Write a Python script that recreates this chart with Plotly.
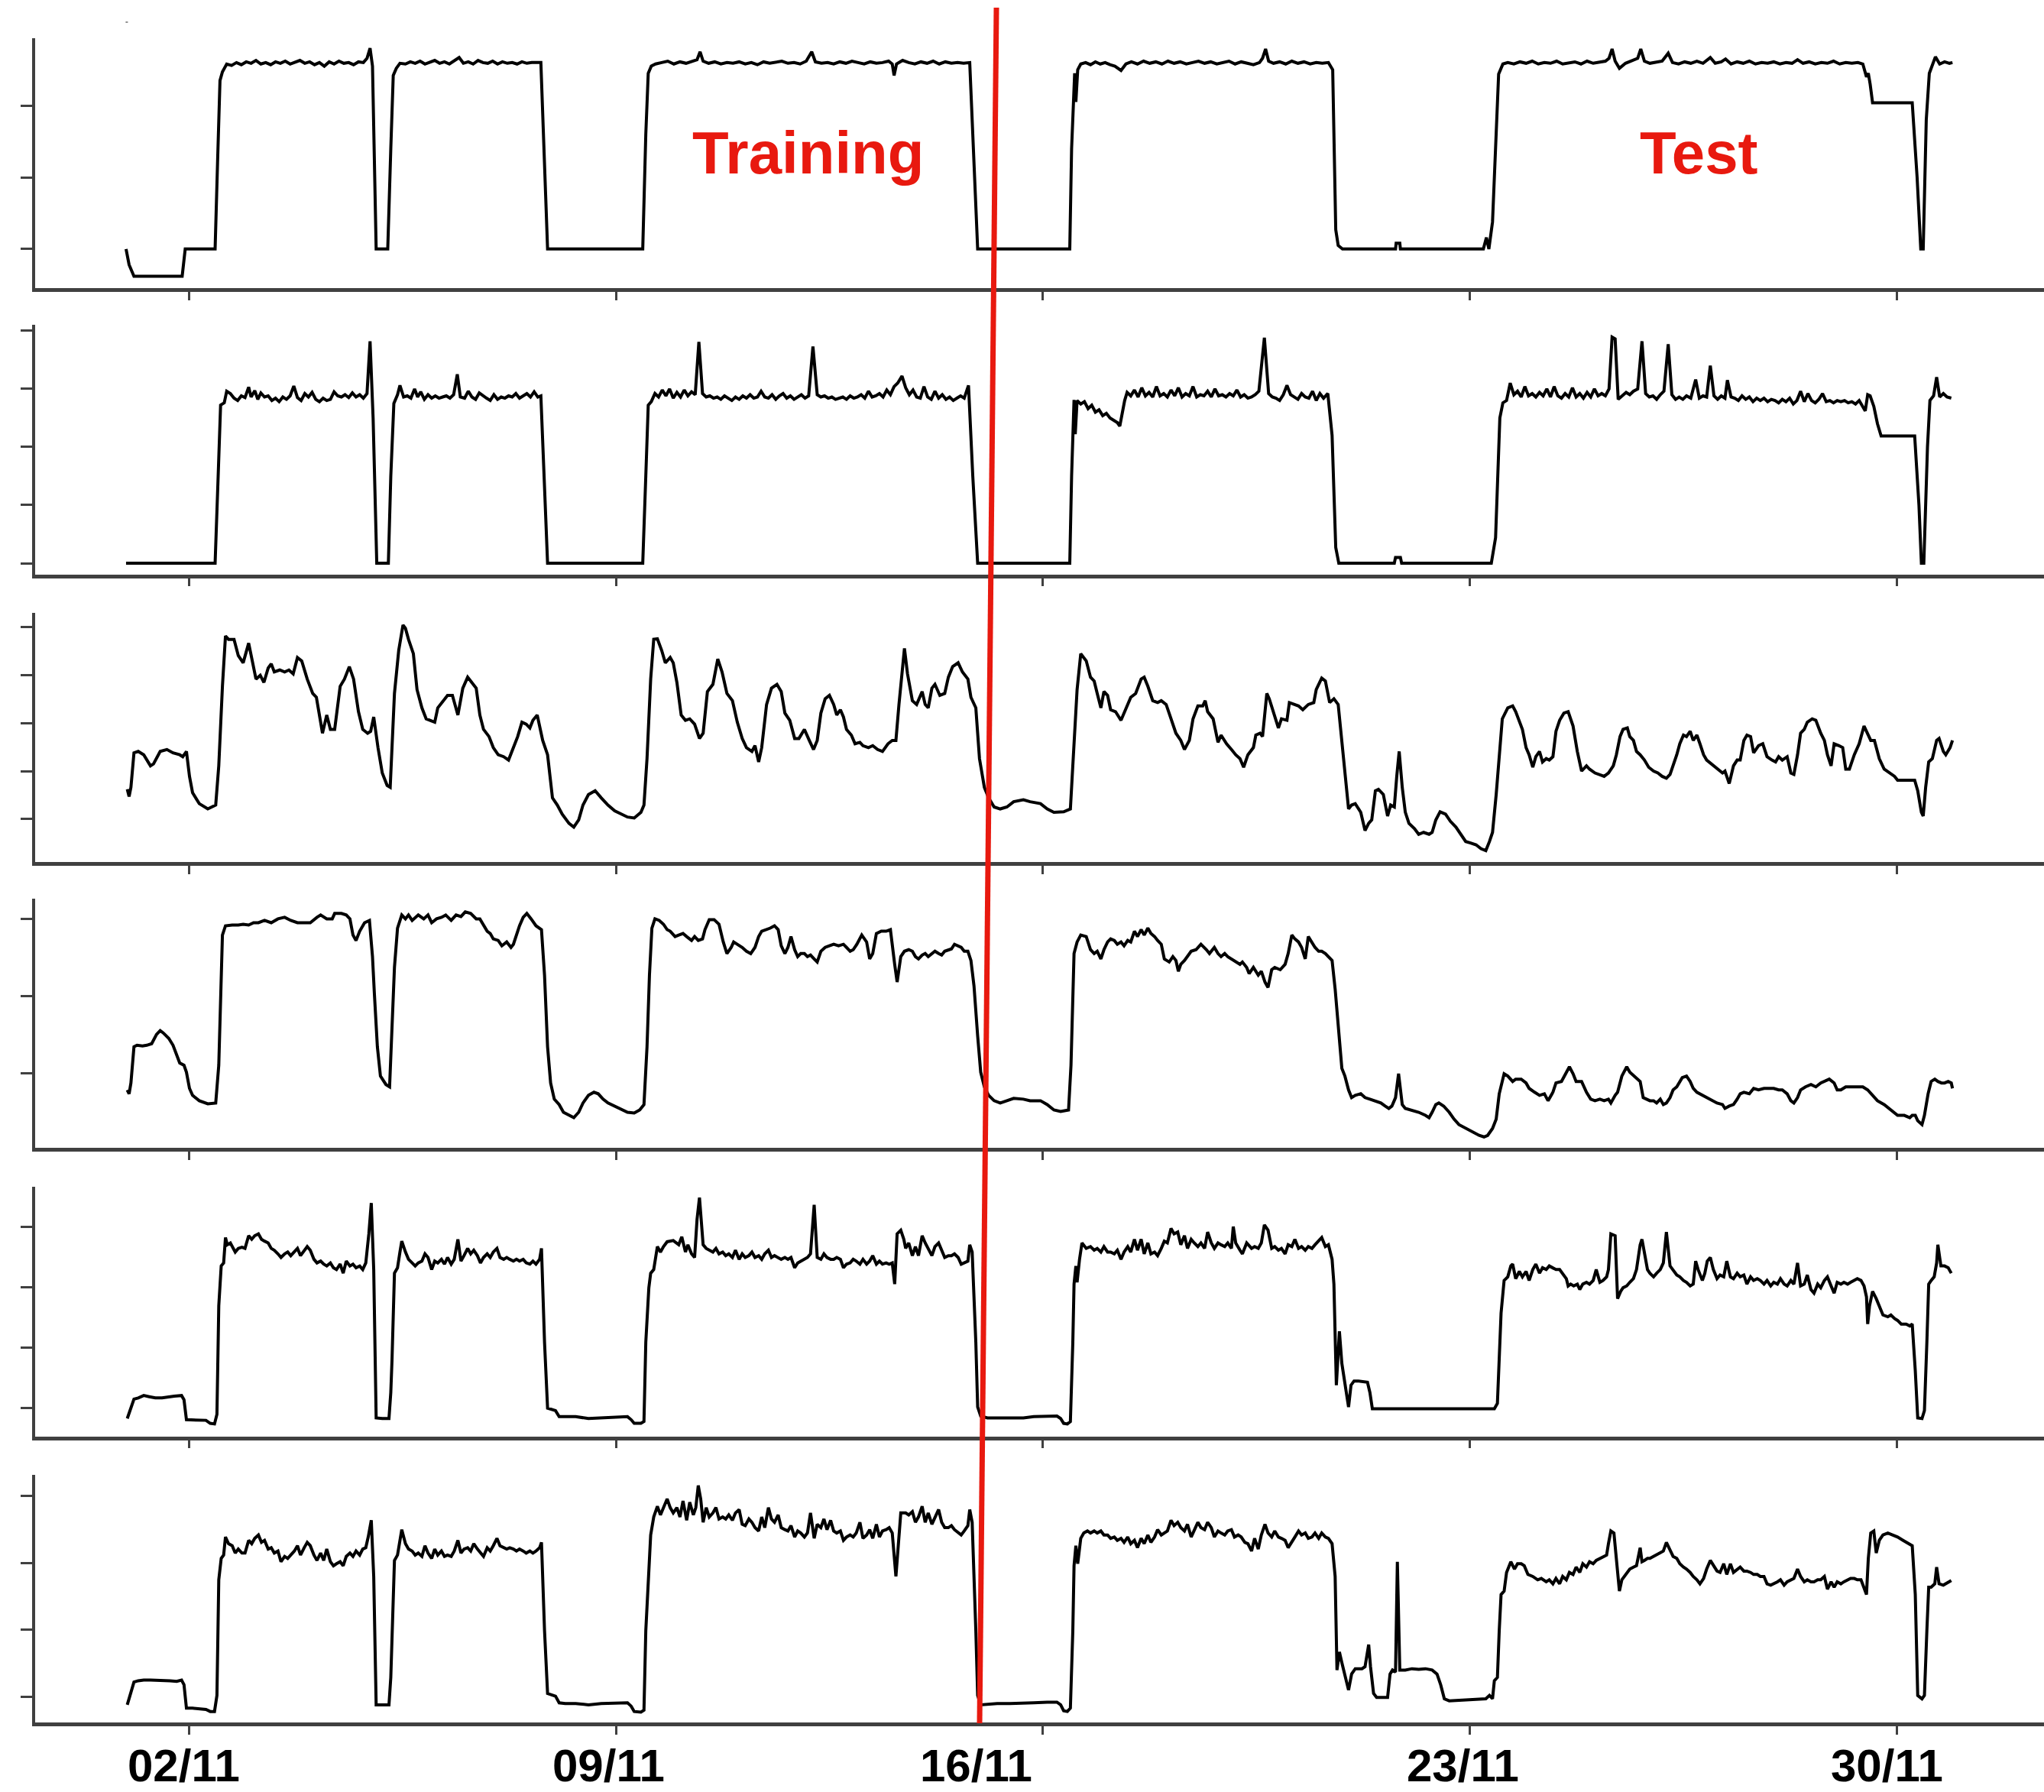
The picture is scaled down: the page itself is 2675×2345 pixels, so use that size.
import plotly.graph_objects as go

# ---------------- data (x = day of November, y = panel value) ----------------
TICK_DAYS = [2, 9, 16, 23, 30]
TICK_LABELS = ["02/11", "09/11", "16/11", "23/11", "30/11"]
LABEL_DAYS = [1.91, 8.88, 14.90, 22.88, 29.83]
PHASE_LABELS = ["Training", "Test"]
X_RANGE = [-0.52, 32.41]

panel1 = [(0.97,0.00),(1.02,-0.22),(1.10,-0.38),(1.50,-0.38),(1.89,-0.38),(1.94,0.00),(2.20,0.00),(2.43,0.00),
(2.47,1.20),(2.51,2.35),(2.55,2.47),(2.62,2.58),(2.70,2.56),(2.78,2.60),(2.86,2.57),(2.94,2.61),(3.02,2.59),(3.10,2.63),
(3.18,2.58),(3.26,2.60),(3.34,2.57),(3.42,2.61),(3.50,2.59),(3.58,2.62),(3.66,2.58),(3.74,2.60),(3.82,2.63),(3.90,2.59),
(3.98,2.61),(4.06,2.57),(4.14,2.60),(4.22,2.55),(4.30,2.61),(4.38,2.58),(4.46,2.62),(4.54,2.59),(4.62,2.60),(4.70,2.57),
(4.78,2.61),(4.86,2.60),(4.92,2.66),(4.97,2.80),(5.01,2.55),(5.07,0.00),(5.26,0.00),(5.31,1.40),(5.35,2.42),(5.40,2.52),
(5.46,2.59),(5.55,2.58),(5.63,2.61),(5.71,2.59),(5.79,2.62),(5.87,2.58),(5.95,2.60),(6.03,2.63),(6.11,2.59),(6.19,2.61),
(6.27,2.58),(6.35,2.62),(6.43,2.67),(6.50,2.59),(6.58,2.61),(6.66,2.58),(6.74,2.63),(6.82,2.60),(6.90,2.59),(6.98,2.62),
(7.06,2.58),(7.14,2.61),(7.22,2.59),(7.30,2.60),(7.38,2.58),(7.46,2.61),(7.54,2.59),(7.62,2.60),(7.70,2.60),(7.77,2.60),
(7.88,0.00),(8.60,0.00),(9.44,0.00),(9.49,1.60),(9.53,2.45),(9.58,2.55),(9.65,2.58),(9.75,2.60),(9.85,2.62),(9.95,2.58),
(10.05,2.61),(10.15,2.59),(10.25,2.62),(10.33,2.64),(10.38,2.75),(10.43,2.62),(10.52,2.59),(10.62,2.61),(10.72,2.58),
(10.82,2.60),(10.92,2.59),(11.02,2.61),(11.12,2.58),(11.22,2.60),(11.32,2.57),(11.42,2.61),(11.52,2.59),(11.62,2.60),
(11.72,2.62),(11.82,2.59),(11.92,2.60),(12.02,2.58),(12.12,2.62),(12.21,2.75),(12.27,2.61),(12.37,2.59),(12.47,2.60),
(12.57,2.58),(12.67,2.61),(12.77,2.59),(12.87,2.62),(12.97,2.60),(13.07,2.58),(13.17,2.61),(13.27,2.59),(13.37,2.60),
(13.47,2.62),(13.53,2.58),(13.56,2.42),(13.60,2.58),(13.70,2.63),(13.80,2.60),(13.90,2.58),(14.00,2.61),(14.10,2.59),
(14.20,2.62),(14.30,2.58),(14.40,2.61),(14.50,2.59),(14.60,2.60),(14.70,2.59),(14.80,2.60),(14.93,0.00),(15.50,0.00),
(16.44,0.00),(16.47,1.40),(16.50,2.05),(16.52,2.45),(16.54,2.05),(16.57,2.50),(16.62,2.58),(16.70,2.60),(16.78,2.57),
(16.86,2.61),(16.94,2.58),(17.02,2.60),(17.10,2.57),(17.18,2.55),(17.28,2.49),(17.36,2.58),(17.45,2.61),(17.55,2.58),
(17.65,2.62),(17.75,2.59),(17.85,2.61),(17.95,2.58),(18.05,2.62),(18.15,2.59),(18.25,2.61),(18.35,2.58),(18.45,2.60),
(18.55,2.62),(18.65,2.59),(18.75,2.61),(18.85,2.58),(18.95,2.60),(19.05,2.62),(19.15,2.58),(19.25,2.61),(19.35,2.59),
(19.45,2.57),(19.55,2.60),(19.60,2.66),(19.65,2.79),(19.70,2.62),(19.78,2.59),(19.88,2.61),(19.98,2.58),(20.08,2.62),
(20.18,2.59),(20.28,2.61),(20.38,2.58),(20.48,2.60),(20.58,2.59),(20.68,2.60),(20.75,2.50),(20.80,0.27),(20.84,0.05),
(20.91,0.00),(21.50,0.00),(21.78,0.00),(21.79,0.08),(21.85,0.08),(21.86,0.00),(22.50,0.00),(23.22,0.00),(23.27,0.16),
(23.31,0.00),(23.37,0.38),(23.47,2.44),(23.54,2.58),(23.62,2.60),(23.72,2.58),(23.82,2.61),(23.92,2.59),(24.02,2.62),
(24.12,2.58),(24.22,2.60),(24.32,2.59),(24.42,2.62),(24.52,2.58),(24.62,2.60),(24.72,2.61),(24.82,2.58),(24.92,2.62),
(25.02,2.59),(25.12,2.60),(25.22,2.62),(25.28,2.66),(25.33,2.79),(25.38,2.62),(25.45,2.52),(25.55,2.59),(25.65,2.62),
(25.75,2.66),(25.80,2.79),(25.86,2.62),(25.95,2.59),(26.05,2.61),(26.15,2.62),(26.25,2.73),(26.32,2.60),(26.42,2.58),
(26.52,2.61),(26.62,2.59),(26.72,2.62),(26.82,2.59),(26.94,2.67),(27.02,2.59),(27.12,2.61),(27.19,2.65),(27.28,2.58),
(27.38,2.61),(27.48,2.59),(27.58,2.62),(27.68,2.58),(27.78,2.60),(27.88,2.59),(27.98,2.61),(28.08,2.58),(28.18,2.60),
(28.28,2.59),(28.37,2.64),(28.46,2.59),(28.56,2.61),(28.66,2.58),(28.76,2.60),(28.86,2.59),(28.96,2.62),(29.06,2.58),
(29.16,2.60),(29.26,2.59),(29.36,2.60),(29.44,2.58),(29.50,2.40),(29.53,2.45),(29.56,2.30),(29.60,2.04),(29.90,2.04),
(30.25,2.04),(30.33,1.00),(30.39,0.00),(30.43,0.00),(30.48,1.80),(30.53,2.45),(30.57,2.55),(30.63,2.68),(30.70,2.58),
(30.78,2.61),(30.86,2.59),(30.91,2.60)]

panel2 = [(0.97,0.00),(1.70,0.00),(2.43,0.00),(2.48,1.50),(2.52,2.72),(2.58,2.76),(2.62,2.96),(2.68,2.92),(2.74,2.84),
(2.80,2.80),(2.86,2.88),(2.92,2.85),(2.98,3.03),(3.02,2.86),(3.08,2.97),(3.13,2.82),(3.18,2.93),(3.24,2.86),(3.30,2.88),
(3.36,2.80),(3.42,2.84),(3.48,2.78),(3.54,2.86),(3.60,2.82),(3.66,2.88),(3.72,3.05),(3.78,2.85),(3.84,2.80),(3.90,2.92),
(3.96,2.86),(4.02,2.94),(4.08,2.82),(4.14,2.78),(4.20,2.84),(4.26,2.80),(4.32,2.82),(4.38,2.95),(4.44,2.88),(4.50,2.86),
(4.56,2.90),(4.62,2.85),(4.68,2.93),(4.74,2.86),(4.80,2.90),(4.86,2.84),(4.92,2.92),(4.97,3.82),(5.02,2.50),(5.08,0.00),
(5.27,0.00),(5.31,1.50),(5.36,2.75),(5.42,2.90),(5.46,3.06),(5.52,2.86),(5.58,2.88),(5.64,2.84),(5.70,3.00),(5.75,2.86),
(5.80,2.95),(5.86,2.82),(5.92,2.90),(5.98,2.84),(6.04,2.88),(6.10,2.84),(6.16,2.86),(6.22,2.88),(6.28,2.84),(6.34,2.90),
(6.40,3.25),(6.45,2.86),(6.52,2.84),(6.58,2.96),(6.64,2.86),(6.70,2.82),(6.76,2.93),(6.82,2.88),(6.88,2.84),(6.94,2.80),
(7.00,2.90),(7.06,2.82),(7.12,2.86),(7.18,2.84),(7.24,2.88),(7.30,2.86),(7.36,2.92),(7.42,2.84),(7.48,2.88),(7.54,2.92),
(7.60,2.86),(7.66,2.95),(7.72,2.86),(7.77,2.88),(7.88,0.00),(8.60,0.00),(9.44,0.00),(9.49,1.50),(9.53,2.72),(9.58,2.78),
(9.64,2.92),(9.70,2.86),(9.76,2.98),(9.82,2.88),(9.88,3.00),(9.94,2.84),(10.00,2.94),(10.06,2.86),(10.12,2.98),(10.18,2.88),
(10.24,2.95),(10.30,2.90),(10.36,3.81),(10.42,2.92),(10.48,2.86),(10.54,2.88),(10.60,2.84),(10.66,2.86),(10.72,2.82),
(10.78,2.88),(10.84,2.84),(10.90,2.80),(10.96,2.86),(11.02,2.82),(11.08,2.88),(11.14,2.84),(11.20,2.90),(11.26,2.84),
(11.32,2.86),(11.38,2.96),(11.44,2.86),(11.50,2.84),(11.56,2.90),(11.62,2.82),(11.68,2.88),(11.74,2.92),(11.80,2.84),
(11.86,2.88),(11.92,2.82),(11.98,2.86),(12.04,2.90),(12.10,2.84),(12.16,2.88),(12.23,3.73),(12.30,2.90),(12.36,2.86),
(12.42,2.88),(12.48,2.84),(12.54,2.86),(12.60,2.82),(12.66,2.84),(12.72,2.86),(12.78,2.82),(12.84,2.88),(12.90,2.84),
(12.96,2.86),(13.02,2.90),(13.08,2.84),(13.14,2.96),(13.20,2.86),(13.26,2.88),(13.32,2.92),(13.38,2.86),(13.44,2.98),
(13.50,2.90),(13.56,3.04),(13.62,3.10),(13.69,3.22),(13.75,3.02),(13.81,2.90),(13.87,2.98),(13.93,2.86),(13.99,2.84),
(14.05,3.04),(14.11,2.86),(14.17,2.82),(14.23,2.96),(14.29,2.84),(14.35,2.90),(14.41,2.82),(14.47,2.86),(14.53,2.80),
(14.59,2.84),(14.65,2.88),(14.71,2.84),(14.78,3.06),(14.85,1.50),(14.93,0.00),(15.60,0.00),(16.44,0.00),(16.47,1.50),
(16.51,2.81),(16.53,2.22),(16.56,2.80),(16.62,2.74),(16.68,2.78),(16.74,2.66),(16.80,2.72),(16.86,2.60),(16.92,2.64),
(16.98,2.54),(17.04,2.58),(17.10,2.50),(17.16,2.46),(17.22,2.42),(17.26,2.36),(17.30,2.60),(17.34,2.80),(17.38,2.94),
(17.44,2.88),(17.50,2.98),(17.56,2.86),(17.62,3.02),(17.68,2.88),(17.74,2.94),(17.80,2.86),(17.86,3.04),(17.92,2.88),
(17.98,2.92),(18.04,2.86),(18.10,2.98),(18.16,2.88),(18.22,3.02),(18.28,2.86),(18.34,2.92),(18.40,2.88),(18.46,3.04),
(18.52,2.86),(18.58,2.90),(18.64,2.88),(18.70,2.96),(18.76,2.86),(18.82,3.00),(18.88,2.88),(18.94,2.90),(19.00,2.86),
(19.06,2.92),(19.12,2.88),(19.18,2.98),(19.24,2.86),(19.30,2.90),(19.36,2.84),(19.42,2.86),(19.48,2.90),(19.54,2.96),
(19.63,3.88),(19.70,2.92),(19.76,2.86),(19.82,2.84),(19.88,2.80),(19.94,2.90),(20.00,3.06),(20.06,2.90),(20.12,2.86),
(20.18,2.82),(20.24,2.92),(20.30,2.86),(20.36,2.84),(20.42,2.96),(20.48,2.80),(20.54,2.92),(20.60,2.84),(20.67,2.92),
(20.74,2.20),(20.80,0.27),(20.85,0.00),(21.40,0.00),(21.76,0.00),(21.78,0.10),(21.86,0.10),(21.88,0.00),(22.60,0.00),
(23.35,0.00),(23.42,0.44),(23.49,2.50),(23.54,2.76),(23.60,2.80),(23.66,3.10),(23.72,2.90),(23.78,2.96),(23.84,2.86),
(23.90,3.04),(23.96,2.88),(24.02,2.92),(24.08,2.86),(24.14,2.94),(24.20,2.88),(24.26,3.00),(24.32,2.86),(24.38,3.04),
(24.44,2.88),(24.50,2.84),(24.56,2.92),(24.62,2.86),(24.68,3.02),(24.74,2.86),(24.80,2.92),(24.86,2.84),(24.92,2.94),
(24.98,2.86),(25.04,3.00),(25.10,2.88),(25.16,2.92),(25.22,2.88),(25.28,3.00),(25.33,3.89),(25.38,3.86),(25.43,2.82),
(25.50,2.88),(25.56,2.94),(25.62,2.90),(25.68,2.96),(25.75,3.00),(25.82,3.82),(25.88,2.92),(25.94,2.86),(26.00,2.88),
(26.06,2.82),(26.12,2.90),(26.18,2.96),(26.25,3.77),(26.31,2.90),(26.37,2.82),(26.43,2.86),(26.49,2.82),(26.55,2.88),
(26.62,2.84),(26.70,3.16),(26.76,2.84),(26.82,2.88),(26.88,2.86),(26.94,3.40),(27.00,2.88),(27.06,2.82),(27.12,2.88),
(27.18,2.84),(27.22,3.15),(27.28,2.86),(27.34,2.84),(27.40,2.80),(27.46,2.88),(27.52,2.82),(27.58,2.86),(27.64,2.78),
(27.70,2.84),(27.76,2.80),(27.82,2.84),(27.88,2.78),(27.94,2.82),(28.00,2.80),(28.06,2.76),(28.12,2.82),(28.18,2.78),
(28.24,2.84),(28.30,2.74),(28.36,2.80),(28.42,2.96),(28.48,2.78),(28.54,2.92),(28.60,2.80),(28.66,2.76),(28.72,2.82),
(28.78,2.92),(28.84,2.78),(28.90,2.80),(28.96,2.76),(29.02,2.80),(29.08,2.78),(29.14,2.80),(29.20,2.76),(29.26,2.78),
(29.32,2.74),(29.38,2.80),(29.44,2.70),(29.48,2.62),(29.52,2.90),(29.56,2.88),(29.62,2.70),(29.68,2.40),(29.74,2.19),
(30.00,2.19),(30.29,2.19),(30.36,1.00),(30.40,0.00),(30.44,0.00),(30.50,2.00),(30.54,2.80),(30.60,2.88),(30.65,3.20),
(30.70,2.86),(30.76,2.92),(30.82,2.86),(30.89,2.84)]

panel3 = [(0.99,0.62),(1.02,0.47),(1.05,0.66),(1.10,1.38),(1.17,1.41),(1.26,1.34),(1.37,1.11),(1.42,1.15),(1.53,1.41),
(1.64,1.45),(1.74,1.38),(1.85,1.34),(1.90,1.30),(1.96,1.41),(2.01,0.89),(2.06,0.55),(2.17,0.32),(2.31,0.21),(2.44,0.29),
(2.49,1.11),(2.55,2.77),(2.60,3.82),(2.65,3.75),(2.74,3.75),(2.81,3.41),(2.89,3.26),(2.98,3.67),(3.10,2.92),(3.17,3.00),
(3.23,2.85),(3.30,3.15),(3.35,3.24),(3.40,3.07),(3.49,3.11),(3.57,3.07),(3.64,3.11),(3.71,3.03),(3.78,3.37),(3.85,3.30),
(3.94,2.92),(4.03,2.62),(4.09,2.54),(4.16,2.02),(4.19,1.79),(4.26,2.17),(4.32,1.87),(4.39,1.87),(4.48,2.77),(4.55,2.92),
(4.63,3.18),(4.70,2.92),(4.78,2.24),(4.85,1.87),(4.93,1.79),(4.98,1.83),(5.03,2.13),(5.10,1.49),(5.17,0.96),(5.25,0.70),
(5.30,0.66),(5.37,2.62),(5.44,3.52),(5.51,4.05),(5.55,3.98),(5.60,3.75),(5.68,3.45),(5.74,2.70),(5.82,2.32),(5.89,2.09),
(5.96,2.06),(6.03,2.02),(6.08,2.32),(6.17,2.47),(6.24,2.58),(6.32,2.58),(6.41,2.17),(6.49,2.73),(6.57,2.96),(6.62,2.88),
(6.71,2.73),(6.77,2.17),(6.83,1.87),(6.92,1.72),(6.99,1.49),(7.07,1.34),(7.16,1.30),(7.24,1.23),(7.32,1.49),(7.39,1.72),
(7.46,2.02),(7.53,1.98),(7.59,1.90),(7.64,2.06),(7.71,2.17),(7.80,1.64),(7.88,1.34),(7.96,0.44),(8.04,0.29),(8.12,0.10),
(8.23,-0.09),(8.31,-0.17),(8.39,-0.02),(8.46,0.29),(8.55,0.51),(8.66,0.59),(8.76,0.44),(8.87,0.29),(8.98,0.17),(9.09,0.10),
(9.19,0.04),(9.30,0.02),(9.41,0.14),(9.46,0.29),(9.51,1.26),(9.57,2.92),(9.62,3.75),(9.68,3.76),(9.75,3.52),(9.81,3.26),
(9.89,3.37),(9.94,3.26),(10.00,2.85),(10.07,2.17),(10.14,2.06),(10.21,2.09),(10.29,1.98),(10.37,1.68),(10.43,1.79),
(10.50,2.66),(10.59,2.81),(10.67,3.34),(10.74,3.07),(10.82,2.62),(10.91,2.47),(10.99,2.02),(11.07,1.68),(11.14,1.49),
(11.23,1.41),(11.28,1.53),(11.34,1.19),(11.39,1.49),(11.47,2.39),(11.55,2.73),(11.64,2.81),(11.71,2.66),(11.77,2.21),
(11.85,2.06),(11.93,1.68),(12.00,1.68),(12.09,1.87),(12.17,1.64),(12.24,1.45),(12.30,1.64),(12.36,2.21),(12.43,2.51),
(12.50,2.58),(12.57,2.39),(12.62,2.17),(12.68,2.28),(12.73,2.13),(12.78,1.87),(12.86,1.75),(12.92,1.57),(13.00,1.60),
(13.05,1.53),(13.14,1.49),(13.21,1.53),(13.29,1.45),(13.37,1.41),(13.46,1.57),(13.53,1.64),(13.59,1.64),(13.64,2.39),
(13.70,3.22),(13.73,3.56),(13.78,3.03),(13.86,2.47),(13.93,2.39),(14.02,2.66),(14.07,2.39),(14.12,2.32),(14.18,2.73),
(14.23,2.81),(14.31,2.58),(14.39,2.62),(14.45,2.96),(14.52,3.18),(14.61,3.26),(14.68,3.07),(14.77,2.92),(14.82,2.54),
(14.90,2.32),(14.96,1.26),(15.04,0.66),(15.11,0.44),(15.20,0.25),(15.30,0.21),(15.41,0.25),(15.52,0.36),(15.68,0.40),
(15.79,0.36),(15.96,0.32),(16.07,0.21),(16.18,0.14),(16.34,0.15),(16.45,0.21),(16.51,1.64),(16.56,2.70),(16.62,3.45),
(16.71,3.30),(16.78,2.96),(16.84,2.88),(16.89,2.62),(16.95,2.32),(17.00,2.66),(17.06,2.58),(17.11,2.28),(17.19,2.24),
(17.28,2.06),(17.36,2.32),(17.44,2.54),(17.52,2.62),(17.61,2.92),(17.66,2.96),(17.72,2.77),(17.80,2.47),(17.88,2.43),
(17.94,2.47),(18.02,2.39),(18.10,2.09),(18.18,1.79),(18.26,1.64),(18.32,1.45),(18.40,1.64),(18.46,2.09),(18.54,2.36),
(18.62,2.36),(18.66,2.47),(18.70,2.24),(18.79,2.09),(18.87,1.60),(18.92,1.75),(19.01,1.57),(19.09,1.45),(19.16,1.34),
(19.23,1.26),(19.29,1.08),(19.36,1.34),(19.45,1.49),(19.49,1.75),(19.56,1.79),(19.60,1.72),(19.67,2.62),(19.71,2.51),
(19.78,2.24),(19.86,1.90),(19.91,2.09),(20.00,2.06),(20.04,2.43),(20.11,2.39),(20.19,2.36),(20.26,2.28),(20.35,2.39),
(20.44,2.43),(20.48,2.70),(20.57,2.94),(20.63,2.88),(20.70,2.43),(20.77,2.51),(20.84,2.39),(20.90,1.64),(20.95,1.04),
(21.01,0.21),(21.06,0.29),(21.12,0.32),(21.21,0.14),(21.28,-0.24),(21.34,-0.09),(21.39,-0.02),(21.45,0.59),(21.50,0.62),
(21.58,0.51),(21.65,0.06),(21.70,0.29),(21.76,0.25),(21.80,0.89),(21.84,1.41),(21.89,0.66),(21.94,0.14),(22.00,-0.09),
(22.09,-0.20),(22.16,-0.32),(22.24,-0.28),(22.33,-0.32),(22.38,-0.28),(22.44,-0.02),(22.51,0.15),(22.60,0.10),(22.68,-0.05),
(22.77,-0.17),(22.85,-0.32),(22.93,-0.47),(23.01,-0.50),(23.10,-0.54),(23.18,-0.62),(23.26,-0.66),(23.32,-0.47),
(23.37,-0.28),(23.43,0.51),(23.48,1.26),(23.53,2.09),(23.62,2.32),(23.70,2.36),(23.75,2.24),(23.81,2.06),(23.86,1.87),
(23.92,1.49),(23.97,1.34),(24.03,1.08),(24.08,1.30),(24.14,1.41),(24.19,1.19),(24.25,1.26),(24.30,1.23),(24.36,1.30),
(24.41,1.83),(24.47,2.06),(24.54,2.21),(24.61,2.24),(24.69,1.94),(24.76,1.41),(24.83,1.00),(24.91,1.11),(24.96,1.04),
(25.05,0.96),(25.13,0.93),(25.20,0.89),(25.27,0.96),(25.35,1.11),(25.40,1.34),(25.46,1.72),(25.51,1.87),(25.58,1.90),
(25.62,1.72),(25.68,1.64),(25.73,1.41),(25.79,1.34),(25.86,1.23),(25.93,1.08),(26.01,1.00),(26.08,0.96),(26.15,0.89),
(26.22,0.85),(26.28,0.93),(26.33,1.11),(26.39,1.34),(26.44,1.57),(26.50,1.75),(26.55,1.72),(26.61,1.83),(26.66,1.64),
(26.72,1.75),(26.77,1.57),(26.83,1.34),(26.88,1.23),(26.96,1.15),(27.05,1.04),(27.14,0.96),(27.18,1.00),(27.25,0.74),
(27.32,1.11),(27.38,1.23),(27.43,1.23),(27.49,1.64),(27.54,1.75),(27.60,1.72),(27.65,1.38),(27.73,1.53),(27.80,1.57),
(27.87,1.30),(27.95,1.23),(28.01,1.19),(28.06,1.30),(28.12,1.23),(28.20,1.30),(28.26,0.96),(28.31,0.93),(28.37,1.34),
(28.42,1.79),(28.48,1.87),(28.53,2.02),(28.61,2.09),(28.67,2.06),(28.75,1.79),(28.81,1.64),(28.86,1.34),(28.92,1.11),
(28.97,1.57),(29.05,1.53),(29.11,1.49),(29.16,1.04),(29.22,1.04),(29.30,1.34),(29.38,1.57),(29.46,1.94),(29.52,1.79),
(29.57,1.64),(29.63,1.64),(29.71,1.26),(29.79,1.04),(29.88,0.96),(29.96,0.89),(30.01,0.81),(30.12,0.81),(30.23,0.80),
(30.29,0.81),(30.34,0.59),(30.40,0.14),(30.43,0.06),(30.47,0.66),(30.52,1.19),(30.58,1.26),(30.65,1.64),(30.69,1.68),
(30.76,1.41),(30.80,1.34),(30.87,1.49),(30.91,1.64)]

panel4 = [(0.99,-0.22),(1.02,-0.27),(1.05,-0.13),(1.10,0.34),(1.15,0.36),(1.24,0.35),(1.31,0.36),(1.39,0.38),(1.47,0.50),
(1.53,0.55),(1.58,0.52),(1.67,0.45),(1.74,0.36),(1.80,0.24),(1.85,0.13),(1.92,0.10),(1.96,0.01),(2.01,-0.20),(2.06,-0.29),
(2.17,-0.36),(2.31,-0.40),(2.44,-0.39),(2.49,0.10),(2.55,1.79),(2.60,1.91),(2.71,1.92),(2.81,1.92),(2.89,1.93),(2.98,1.92),
(3.06,1.95),(3.14,1.95),(3.24,1.98),(3.35,1.95),(3.46,2.00),(3.57,2.02),(3.67,1.98),(3.78,1.95),(3.89,1.95),(3.99,1.95),
(4.10,2.02),(4.16,2.05),(4.26,2.00),(4.35,2.00),(4.39,2.07),(4.50,2.07),(4.58,2.05),(4.64,2.00),(4.69,1.79),(4.74,1.72),
(4.80,1.84),(4.88,1.95),(4.96,1.98),(5.01,1.51),(5.04,1.04),(5.09,0.34),(5.14,-0.04),(5.23,-0.15),(5.29,-0.18),(5.33,0.57),
(5.37,1.37),(5.42,1.88),(5.49,2.05),(5.55,2.00),(5.60,2.05),(5.66,1.98),(5.71,2.02),(5.76,2.05),(5.85,2.00),(5.92,2.05),
(5.98,1.95),(6.06,2.00),(6.14,2.02),(6.21,2.05),(6.30,1.98),(6.38,2.05),(6.46,2.03),(6.53,2.09),(6.62,2.07),(6.71,2.00),
(6.77,2.00),(6.83,1.91),(6.89,1.84),(6.94,1.81),(6.99,1.74),(7.07,1.72),(7.13,1.65),(7.21,1.70),(7.28,1.63),(7.32,1.67),
(7.37,1.79),(7.42,1.91),(7.48,2.02),(7.54,2.07),(7.61,2.00),(7.69,1.91),(7.78,1.86),(7.83,1.27),(7.88,0.34),(7.93,-0.13),
(7.99,-0.34),(8.07,-0.41),(8.14,-0.51),(8.23,-0.55),(8.31,-0.58),(8.39,-0.51),(8.46,-0.39),(8.55,-0.29),(8.64,-0.25),
(8.71,-0.27),(8.79,-0.34),(8.87,-0.39),(8.98,-0.43),(9.09,-0.48),(9.19,-0.51),(9.30,-0.52),(9.39,-0.48),(9.46,-0.41),
(9.51,0.34),(9.55,1.27),(9.59,1.88),(9.64,2.00),(9.71,1.98),(9.78,1.93),(9.84,1.86),(9.89,1.84),(9.97,1.77),(10.03,1.79),
(10.10,1.81),(10.16,1.77),(10.24,1.72),(10.29,1.77),(10.35,1.72),(10.42,1.74),(10.46,1.86),(10.53,1.99),(10.61,1.99),
(10.69,1.93),(10.76,1.70),(10.82,1.55),(10.89,1.63),(10.93,1.70),(11.00,1.67),(11.07,1.63),(11.14,1.58),(11.21,1.55),
(11.28,1.63),(11.34,1.77),(11.39,1.84),(11.47,1.86),(11.53,1.88),(11.60,1.91),(11.66,1.86),(11.71,1.65),(11.77,1.55),
(11.82,1.63),(11.87,1.77),(11.93,1.60),(11.98,1.51),(12.03,1.55),(12.09,1.55),(12.14,1.51),(12.19,1.53),(12.25,1.48),
(12.30,1.44),(12.36,1.58),(12.43,1.63),(12.50,1.65),(12.57,1.67),(12.65,1.65),(12.73,1.67),(12.78,1.63),(12.84,1.58),
(12.89,1.60),(12.95,1.67),(13.03,1.79),(13.11,1.70),(13.16,1.48),(13.21,1.55),(13.27,1.81),(13.35,1.84),(13.43,1.84),
(13.50,1.86),(13.57,1.41),(13.61,1.18),(13.67,1.51),(13.73,1.58),(13.80,1.60),(13.86,1.58),(13.91,1.51),(13.96,1.48),
(14.02,1.53),(14.07,1.55),(14.12,1.51),(14.18,1.55),(14.23,1.58),(14.29,1.55),(14.34,1.53),(14.39,1.58),(14.45,1.60),
(14.50,1.61),(14.55,1.67),(14.61,1.65),(14.66,1.63),(14.71,1.58),(14.77,1.58),(14.82,1.46),(14.87,1.13),(14.93,0.48),
(14.98,0.01),(15.04,-0.18),(15.11,-0.29),(15.20,-0.36),(15.30,-0.39),(15.41,-0.36),(15.52,-0.33),(15.68,-0.34),
(15.79,-0.36),(15.96,-0.36),(16.07,-0.41),(16.18,-0.48),(16.29,-0.50),(16.42,-0.48),(16.46,0.10),(16.51,1.55),(16.56,1.70),
(16.62,1.79),(16.71,1.77),(16.78,1.60),(16.84,1.55),(16.89,1.58),(16.95,1.48),(17.00,1.60),(17.06,1.70),(17.11,1.74),
(17.17,1.72),(17.22,1.67),(17.28,1.70),(17.33,1.65),(17.39,1.72),(17.44,1.70),(17.50,1.84),(17.55,1.77),(17.61,1.86),
(17.66,1.79),(17.72,1.88),(17.77,1.81),(17.83,1.77),(17.88,1.72),(17.94,1.67),(17.99,1.48),(18.07,1.44),(18.13,1.51),
(18.18,1.46),(18.22,1.32),(18.26,1.41),(18.32,1.46),(18.37,1.51),(18.43,1.58),(18.51,1.60),(18.59,1.67),(18.68,1.60),
(18.73,1.55),(18.81,1.63),(18.87,1.55),(18.92,1.51),(18.98,1.55),(19.03,1.51),(19.09,1.48),(19.14,1.46),(19.23,1.41),
(19.27,1.44),(19.34,1.37),(19.38,1.29),(19.45,1.37),(19.53,1.27),(19.58,1.32),(19.64,1.18),(19.69,1.11),(19.75,1.34),
(19.80,1.37),(19.89,1.34),(19.97,1.41),(20.02,1.55),(20.08,1.79),(20.13,1.74),(20.19,1.70),(20.24,1.63),(20.30,1.48),
(20.35,1.77),(20.41,1.70),(20.46,1.63),(20.52,1.58),(20.57,1.58),(20.63,1.55),(20.68,1.51),(20.74,1.46),(20.79,1.09),
(20.84,0.57),(20.90,0.06),(20.95,-0.04),(21.01,-0.22),(21.06,-0.32),(21.12,-0.29),(21.21,-0.27),(21.28,-0.32),(21.36,-0.34),
(21.45,-0.36),(21.54,-0.39),(21.61,-0.43),(21.67,-0.46),(21.72,-0.43),(21.78,-0.32),(21.83,-0.01),(21.89,-0.41),
(21.94,-0.46),(22.05,-0.48),(22.16,-0.51),(22.27,-0.55),(22.33,-0.58),(22.38,-0.51),(22.44,-0.41),(22.49,-0.39),
(22.57,-0.43),(22.66,-0.51),(22.74,-0.60),(22.82,-0.67),(22.93,-0.72),(23.04,-0.76),(23.15,-0.81),(23.23,-0.83),
(23.29,-0.81),(23.37,-0.72),(23.43,-0.60),(23.48,-0.27),(23.56,-0.01),(23.62,-0.04),(23.70,-0.11),(23.75,-0.08),
(23.84,-0.08),(23.92,-0.13),(23.97,-0.20),(24.06,-0.25),(24.14,-0.29),(24.22,-0.27),(24.28,-0.36),(24.36,-0.25),
(24.41,-0.13),(24.50,-0.11),(24.58,0.01),(24.63,0.08),(24.69,-0.01),(24.74,-0.11),(24.83,-0.11),(24.91,-0.25),(24.98,-0.34),
(25.05,-0.36),(25.13,-0.34),(25.20,-0.36),(25.27,-0.34),(25.31,-0.39),(25.38,-0.29),(25.42,-0.25),(25.49,-0.04),(25.57,0.08),
(25.62,0.01),(25.71,-0.06),(25.79,-0.11),(25.84,-0.32),(25.90,-0.34),(25.95,-0.36),(26.01,-0.36),(26.06,-0.39),(26.12,-0.34),
(26.17,-0.41),(26.22,-0.39),(26.28,-0.32),(26.33,-0.22),(26.39,-0.18),(26.48,-0.06),(26.55,-0.04),(26.61,-0.11),(26.66,-0.20),
(26.72,-0.25),(26.81,-0.29),(26.88,-0.32),(26.96,-0.36),(27.05,-0.39),(27.14,-0.41),(27.18,-0.46),(27.25,-0.43),(27.32,-0.41),
(27.38,-0.34),(27.43,-0.27),(27.49,-0.25),(27.58,-0.27),(27.65,-0.20),(27.73,-0.22),(27.82,-0.20),(27.90,-0.20),(27.98,-0.20),
(28.06,-0.22),(28.12,-0.22),(28.20,-0.27),(28.26,-0.36),(28.31,-0.39),(28.37,-0.32),(28.42,-0.22),(28.50,-0.18),(28.59,-0.15),
(28.67,-0.18),(28.75,-0.13),(28.81,-0.11),(28.89,-0.08),(28.97,-0.13),(29.02,-0.22),(29.08,-0.22),(29.16,-0.18),(29.24,-0.18),
(29.33,-0.18),(29.44,-0.18),(29.52,-0.22),(29.60,-0.29),(29.68,-0.36),(29.79,-0.41),(29.90,-0.48),(30.01,-0.55),(30.12,-0.55),
(30.21,-0.58),(30.25,-0.55),(30.30,-0.55),(30.34,-0.62),(30.41,-0.67),(30.45,-0.55),(30.51,-0.27),(30.56,-0.11),(30.62,-0.08),
(30.67,-0.11),(30.73,-0.13),(30.78,-0.13),(30.84,-0.11),(30.89,-0.13),(30.91,-0.20)]

panel5 = [(0.99,-0.17),(1.05,0.02),(1.10,0.15),(1.17,0.17),(1.26,0.21),(1.35,0.19),(1.45,0.17),(1.56,0.17),(1.67,0.19),
(1.76,0.20),(1.88,0.21),(1.92,0.14),(1.96,-0.19),(2.06,-0.19),(2.17,-0.20),(2.28,-0.20),(2.35,-0.25),(2.42,-0.26),(2.46,-0.10),
(2.49,1.69),(2.53,2.35),(2.57,2.40),(2.60,2.82),(2.63,2.70),(2.68,2.73),(2.72,2.64),(2.76,2.58),(2.81,2.64),(2.87,2.66),
(2.92,2.64),(2.98,2.85),(3.03,2.79),(3.08,2.85),(3.14,2.88),(3.19,2.79),(3.24,2.76),(3.30,2.73),(3.35,2.64),(3.40,2.61),
(3.46,2.55),(3.51,2.49),(3.57,2.55),(3.62,2.58),(3.67,2.52),(3.73,2.58),(3.78,2.64),(3.83,2.52),(3.89,2.61),(3.94,2.67),
(3.99,2.61),(4.05,2.46),(4.10,2.40),(4.16,2.43),(4.21,2.38),(4.26,2.35),(4.32,2.40),(4.37,2.32),(4.42,2.29),(4.48,2.38),
(4.53,2.23),(4.58,2.43),(4.64,2.35),(4.69,2.38),(4.74,2.32),(4.80,2.35),(4.85,2.29),(4.90,2.40),(4.95,2.88),(4.99,3.39),
(5.03,2.29),(5.07,-0.16),(5.17,-0.17),(5.28,-0.17),(5.31,0.26),(5.33,0.80),(5.37,2.23),(5.42,2.32),(5.46,2.58),(5.49,2.76),
(5.55,2.58),(5.60,2.46),(5.66,2.40),(5.71,2.35),(5.76,2.40),(5.82,2.43),(5.87,2.55),(5.92,2.49),(5.98,2.29),(6.03,2.43),
(6.08,2.40),(6.14,2.46),(6.19,2.38),(6.24,2.49),(6.30,2.38),(6.35,2.46),(6.41,2.79),(6.46,2.43),(6.51,2.52),(6.57,2.64),
(6.62,2.55),(6.67,2.61),(6.73,2.52),(6.78,2.40),(6.83,2.49),(6.89,2.55),(6.94,2.49),(6.99,2.58),(7.05,2.64),(7.10,2.49),
(7.16,2.46),(7.21,2.49),(7.26,2.46),(7.32,2.43),(7.37,2.46),(7.42,2.43),(7.48,2.46),(7.53,2.40),(7.59,2.38),(7.64,2.43),
(7.69,2.38),(7.75,2.46),(7.78,2.64),(7.83,1.09),(7.88,0.00),(7.96,-0.03),(8.01,-0.04),(8.07,-0.14),(8.17,-0.14),(8.34,-0.14),
(8.55,-0.17),(8.76,-0.16),(8.98,-0.16),(9.19,-0.14),(9.25,-0.19),(9.30,-0.25),(9.41,-0.25),(9.46,-0.22),(9.49,1.09),
(9.54,1.99),(9.57,2.23),(9.62,2.29),(9.68,2.67),(9.73,2.58),(9.78,2.67),(9.84,2.75),(9.94,2.77),(10.03,2.70),(10.08,2.83),
(10.14,2.58),(10.18,2.70),(10.24,2.55),(10.29,2.49),(10.33,3.12),(10.37,3.48),(10.43,2.70),(10.48,2.64),(10.53,2.61),
(10.59,2.58),(10.64,2.64),(10.69,2.55),(10.75,2.58),(10.80,2.52),(10.85,2.55),(10.91,2.49),(10.96,2.61),(11.02,2.46),
(11.07,2.55),(11.12,2.49),(11.18,2.52),(11.23,2.58),(11.28,2.49),(11.34,2.52),(11.39,2.46),(11.44,2.55),(11.50,2.61),
(11.55,2.49),(11.60,2.52),(11.66,2.49),(11.71,2.46),(11.77,2.49),(11.82,2.46),(11.87,2.49),(11.93,2.32),(11.98,2.40),
(12.03,2.43),(12.09,2.46),(12.14,2.49),(12.19,2.55),(12.25,3.36),(12.30,2.49),(12.36,2.46),(12.41,2.55),(12.46,2.49),
(12.52,2.46),(12.57,2.46),(12.62,2.49),(12.68,2.46),(12.73,2.32),(12.78,2.38),(12.84,2.40),(12.89,2.46),(12.94,2.43),
(13.00,2.38),(13.05,2.46),(13.11,2.38),(13.16,2.43),(13.21,2.52),(13.27,2.38),(13.32,2.43),(13.37,2.38),(13.43,2.40),
(13.48,2.38),(13.53,2.40),(13.57,2.05),(13.61,2.88),(13.67,2.94),(13.72,2.79),(13.75,2.64),(13.80,2.73),(13.86,2.52),
(13.91,2.67),(13.96,2.52),(14.02,2.85),(14.07,2.73),(14.12,2.64),(14.18,2.52),(14.23,2.67),(14.29,2.73),(14.34,2.61),
(14.39,2.49),(14.45,2.52),(14.50,2.52),(14.55,2.55),(14.61,2.49),(14.66,2.38),(14.71,2.40),(14.77,2.43),(14.80,2.70),
(14.84,2.58),(14.90,1.09),(14.93,0.02),(14.98,-0.13),(15.09,-0.16),(15.25,-0.16),(15.46,-0.16),(15.68,-0.16),
(15.85,-0.14),(16.07,-0.14),(16.23,-0.13),(16.29,-0.17),(16.34,-0.25),(16.40,-0.26),(16.45,-0.22),(16.49,1.09),(16.51,2.05),
(16.54,2.35),(16.56,2.08),(16.60,2.46),(16.64,2.73),(16.71,2.64),(16.78,2.67),(16.84,2.61),(16.89,2.64),(16.95,2.58),
(17.00,2.67),(17.06,2.58),(17.11,2.58),(17.17,2.55),(17.22,2.61),(17.28,2.46),(17.33,2.58),(17.39,2.67),(17.44,2.58),
(17.50,2.79),(17.55,2.61),(17.61,2.79),(17.66,2.55),(17.72,2.73),(17.77,2.55),(17.83,2.58),(17.88,2.52),(17.94,2.64),
(17.99,2.76),(18.04,2.73),(18.10,2.97),(18.15,2.88),(18.21,2.91),(18.26,2.70),(18.32,2.85),(18.37,2.64),(18.43,2.79),
(18.48,2.73),(18.54,2.67),(18.59,2.73),(18.65,2.64),(18.70,2.91),(18.76,2.73),(18.81,2.64),(18.87,2.73),(18.92,2.70),
(18.98,2.67),(19.03,2.73),(19.09,2.64),(19.12,3.00),(19.16,2.73),(19.23,2.61),(19.27,2.55),(19.34,2.73),(19.42,2.64),
(19.47,2.67),(19.53,2.64),(19.58,2.73),(19.63,3.03),(19.69,2.94),(19.75,2.64),(19.80,2.67),(19.86,2.61),(19.91,2.64),
(19.97,2.55),(20.02,2.70),(20.08,2.67),(20.13,2.79),(20.19,2.64),(20.24,2.67),(20.30,2.61),(20.35,2.67),(20.41,2.64),
(20.46,2.70),(20.52,2.76),(20.57,2.82),(20.63,2.67),(20.68,2.70),(20.74,2.46),(20.77,2.05),(20.81,0.38),(20.86,1.27),
(20.90,0.74),(20.95,0.38),(21.01,0.02),(21.05,0.38),(21.10,0.45),(21.17,0.45),(21.25,0.44),(21.32,0.43),(21.36,0.26),
(21.40,-0.01),(21.50,-0.01),(22.33,-0.01),(23.40,-0.01),(23.45,0.08),(23.48,0.74),(23.51,1.57),(23.56,2.11),(23.62,2.17),
(23.67,2.35),(23.70,2.38),(23.75,2.14),(23.81,2.26),(23.86,2.17),(23.92,2.26),(23.97,2.11),(24.03,2.29),(24.08,2.38),
(24.14,2.23),(24.19,2.32),(24.25,2.29),(24.30,2.35),(24.36,2.32),(24.41,2.29),(24.47,2.29),(24.52,2.23),(24.58,2.14),
(24.61,2.02),(24.65,2.05),(24.70,2.02),(24.76,2.05),(24.80,1.96),(24.85,2.05),(24.91,2.08),(24.96,2.05),(25.02,2.11),
(25.07,2.29),(25.13,2.08),(25.18,2.11),(25.24,2.17),(25.27,2.29),(25.31,2.88),(25.38,2.85),(25.42,1.81),(25.47,1.93),
(25.51,1.99),(25.57,2.02),(25.62,2.08),(25.68,2.14),(25.73,2.29),(25.79,2.70),(25.82,2.79),(25.86,2.58),(25.91,2.29),
(25.95,2.23),(26.01,2.17),(26.06,2.23),(26.12,2.29),(26.17,2.40),(26.22,2.91),(26.28,2.35),(26.33,2.29),(26.39,2.20),
(26.44,2.17),(26.50,2.11),(26.55,2.08),(26.61,2.02),(26.66,2.05),(26.70,2.43),(26.74,2.29),(26.81,2.11),(26.85,2.23),
(26.89,2.43),(26.94,2.49),(26.99,2.29),(27.05,2.14),(27.10,2.20),(27.16,2.17),(27.21,2.43),(27.27,2.17),(27.32,2.14),
(27.38,2.23),(27.43,2.17),(27.49,2.20),(27.54,2.05),(27.60,2.17),(27.65,2.11),(27.71,2.14),(27.76,2.11),(27.82,2.05),
(27.87,2.11),(27.93,2.02),(27.98,2.08),(28.04,2.05),(28.09,2.14),(28.15,2.05),(28.20,2.02),(28.26,2.11),(28.31,2.05),
(28.37,2.40),(28.42,2.02),(28.48,2.05),(28.53,2.20),(28.59,1.96),(28.64,1.90),(28.70,2.05),(28.75,1.99),(28.81,2.11),
(28.86,2.17),(28.92,2.02),(28.97,1.90),(29.02,2.08),(29.08,2.05),(29.13,2.08),(29.19,2.05),(29.24,2.08),(29.30,2.11),
(29.35,2.14),(29.41,2.11),(29.46,2.02),(29.50,1.84),(29.52,1.39),(29.55,1.69),(29.60,1.93),(29.66,1.81),(29.71,1.69),
(29.77,1.54),(29.85,1.51),(29.90,1.54),(29.96,1.48),(30.01,1.45),(30.07,1.39),(30.15,1.39),(30.21,1.36),(30.25,1.39),
(30.30,0.62),(30.34,-0.16),(30.41,-0.17),(30.45,-0.04),(30.49,1.09),(30.52,2.05),(30.56,2.11),(30.61,2.17),(30.65,2.40),
(30.67,2.70),(30.72,2.35),(30.78,2.35),(30.84,2.32),(30.89,2.23)]

panel6 = [(0.99,-0.12),(1.05,0.07),(1.10,0.22),(1.17,0.24),(1.26,0.25),(1.37,0.25),(1.47,0.25),(1.58,0.24),(1.69,0.24),
(1.80,0.23),(1.88,0.25),(1.92,0.18),(1.96,-0.17),(2.06,-0.17),(2.17,-0.18),(2.28,-0.19),(2.35,-0.22),(2.42,-0.22),(2.46,0.02),
(2.49,1.75),(2.53,2.07),(2.57,2.12),(2.60,2.39),(2.65,2.29),(2.71,2.26),(2.76,2.15),(2.81,2.21),(2.87,2.15),(2.92,2.15),
(2.98,2.34),(3.03,2.29),(3.08,2.37),(3.14,2.42),(3.19,2.31),(3.24,2.34),(3.30,2.21),(3.35,2.23),(3.40,2.15),(3.46,2.18),
(3.51,2.02),(3.57,2.10),(3.62,2.07),(3.67,2.12),(3.73,2.18),(3.78,2.26),(3.83,2.12),(3.89,2.23),(3.94,2.31),(3.99,2.26),
(4.05,2.12),(4.10,2.04),(4.16,2.15),(4.21,2.04),(4.26,2.21),(4.32,2.02),(4.37,1.96),(4.42,1.99),(4.48,2.02),(4.53,1.96),
(4.58,2.10),(4.64,2.15),(4.69,2.10),(4.74,2.18),(4.80,2.12),(4.85,2.21),(4.90,2.23),(4.94,2.39),(4.99,2.64),(5.03,1.80),
(5.07,-0.12),(5.17,-0.12),(5.28,-0.12),(5.31,0.29),(5.33,0.99),(5.37,2.04),(5.42,2.12),(5.46,2.34),(5.49,2.50),(5.55,2.29),
(5.60,2.21),(5.66,2.18),(5.71,2.12),(5.76,2.15),(5.82,2.10),(5.87,2.26),(5.92,2.15),(5.98,2.07),(6.03,2.21),(6.08,2.12),
(6.14,2.18),(6.19,2.10),(6.24,2.12),(6.30,2.10),(6.35,2.18),(6.41,2.34),(6.46,2.15),(6.51,2.21),(6.57,2.23),(6.62,2.18),
(6.67,2.29),(6.73,2.21),(6.78,2.15),(6.83,2.10),(6.89,2.23),(6.94,2.18),(6.99,2.26),(7.05,2.37),(7.10,2.26),(7.16,2.23),
(7.21,2.21),(7.26,2.23),(7.32,2.21),(7.37,2.18),(7.42,2.21),(7.48,2.18),(7.53,2.15),(7.59,2.18),(7.64,2.15),(7.69,2.18),
(7.75,2.23),(7.78,2.31),(7.83,0.99),(7.88,0.05),(7.96,0.02),(8.01,0.01),(8.07,-0.09),(8.17,-0.10),(8.34,-0.10),(8.55,-0.12),
(8.76,-0.10),(8.98,-0.10),(9.19,-0.09),(9.25,-0.14),(9.30,-0.22),(9.41,-0.23),(9.46,-0.20),(9.49,0.99),(9.54,1.96),
(9.57,2.42),(9.62,2.69),(9.68,2.85),(9.73,2.72),(9.78,2.83),(9.84,2.96),(9.89,2.83),(9.94,2.75),(10.00,2.83),(10.05,2.69),
(10.10,2.93),(10.16,2.64),(10.21,2.91),(10.27,2.72),(10.31,2.83),(10.35,3.16),(10.39,2.96),(10.43,2.61),(10.48,2.83),
(10.53,2.69),(10.59,2.75),(10.64,2.83),(10.69,2.66),(10.75,2.69),(10.80,2.66),(10.85,2.72),(10.91,2.64),(10.96,2.75),
(11.02,2.80),(11.07,2.58),(11.12,2.56),(11.18,2.66),(11.23,2.61),(11.28,2.53),(11.34,2.48),(11.39,2.69),(11.44,2.53),
(11.50,2.83),(11.55,2.66),(11.60,2.61),(11.66,2.72),(11.71,2.53),(11.77,2.50),(11.82,2.48),(11.87,2.56),(11.93,2.39),
(11.98,2.48),(12.03,2.45),(12.09,2.39),(12.14,2.45),(12.19,2.75),(12.25,2.37),(12.30,2.58),(12.36,2.53),(12.41,2.66),
(12.46,2.50),(12.52,2.64),(12.57,2.48),(12.62,2.45),(12.68,2.48),(12.73,2.34),(12.78,2.39),(12.84,2.42),(12.89,2.39),
(12.94,2.45),(13.00,2.61),(13.05,2.37),(13.11,2.42),(13.16,2.50),(13.21,2.37),(13.27,2.58),(13.32,2.39),(13.37,2.48),
(13.43,2.50),(13.48,2.53),(13.53,2.45),(13.59,1.80),(13.64,2.39),(13.67,2.75),(13.75,2.75),(13.80,2.72),(13.86,2.77),
(13.91,2.61),(13.96,2.69),(14.02,2.85),(14.07,2.61),(14.12,2.75),(14.18,2.58),(14.23,2.69),(14.29,2.80),(14.34,2.61),
(14.39,2.53),(14.45,2.53),(14.50,2.56),(14.55,2.50),(14.61,2.45),(14.66,2.42),(14.71,2.48),(14.77,2.56),(14.80,2.80),
(14.84,2.61),(14.90,0.99),(14.93,0.02),(14.98,-0.12),(15.09,-0.11),(15.25,-0.10),(15.46,-0.10),(15.68,-0.10),
(15.85,-0.09),(16.07,-0.08),(16.23,-0.08),(16.29,-0.12),(16.34,-0.21),(16.40,-0.22),(16.45,-0.17),(16.49,0.99),(16.51,1.96),
(16.54,2.26),(16.57,1.99),(16.62,2.37),(16.67,2.45),(16.73,2.48),(16.78,2.45),(16.84,2.48),(16.89,2.45),(16.95,2.48),
(17.00,2.42),(17.06,2.42),(17.11,2.37),(17.17,2.39),(17.22,2.34),(17.28,2.37),(17.33,2.31),(17.39,2.39),(17.44,2.29),
(17.50,2.34),(17.55,2.23),(17.61,2.37),(17.66,2.29),(17.72,2.42),(17.77,2.31),(17.83,2.39),(17.88,2.50),(17.94,2.42),
(17.99,2.45),(18.04,2.48),(18.10,2.64),(18.15,2.56),(18.21,2.61),(18.26,2.53),(18.32,2.48),(18.37,2.58),(18.43,2.39),
(18.48,2.50),(18.54,2.61),(18.59,2.53),(18.65,2.50),(18.70,2.61),(18.76,2.53),(18.81,2.39),(18.87,2.48),(18.92,2.45),
(18.98,2.42),(19.03,2.48),(19.09,2.50),(19.14,2.39),(19.20,2.42),(19.25,2.39),(19.31,2.31),(19.36,2.29),(19.42,2.18),
(19.47,2.37),(19.53,2.21),(19.58,2.42),(19.64,2.58),(19.69,2.45),(19.75,2.39),(19.80,2.48),(19.86,2.39),(19.91,2.37),
(19.97,2.34),(20.02,2.23),(20.08,2.31),(20.13,2.39),(20.19,2.48),(20.24,2.42),(20.30,2.45),(20.35,2.37),(20.41,2.39),
(20.46,2.45),(20.52,2.37),(20.57,2.45),(20.63,2.39),(20.68,2.37),(20.74,2.29),(20.79,1.80),(20.82,0.40),(20.86,0.67),
(20.90,0.51),(20.95,0.34),(21.01,0.10),(21.06,0.34),(21.12,0.42),(21.17,0.42),(21.23,0.42),(21.28,0.45),(21.34,0.78),
(21.37,0.45),(21.42,0.05),(21.47,-0.01),(21.56,-0.01),(21.65,-0.01),(21.69,0.34),(21.73,0.40),(21.78,0.37),(21.81,2.02),
(21.85,0.40),(21.94,0.40),(22.05,0.42),(22.16,0.41),(22.27,0.42),(22.38,0.40),(22.46,0.34),(22.52,0.18),(22.58,-0.03),
(22.66,-0.06),(22.88,-0.05),(23.10,-0.04),(23.26,-0.03),(23.32,0.02),(23.37,-0.03),(23.40,0.24),(23.45,0.29),(23.48,0.99),
(23.51,1.53),(23.56,1.58),(23.60,1.86),(23.67,2.02),(23.73,1.91),(23.78,1.99),(23.84,1.99),(23.89,1.96),(23.95,1.83),
(24.03,1.80),(24.11,1.75),(24.17,1.77),(24.25,1.72),(24.30,1.75),(24.36,1.69),(24.41,1.77),(24.47,1.69),(24.52,1.80),
(24.58,1.75),(24.63,1.86),(24.69,1.83),(24.74,1.94),(24.80,1.86),(24.85,1.99),(24.91,1.94),(24.96,2.02),(25.02,1.99),
(25.07,2.04),(25.13,2.07),(25.18,2.10),(25.24,2.12),(25.27,2.29),(25.31,2.48),(25.36,2.45),(25.40,2.07),(25.45,1.58),
(25.49,1.75),(25.53,1.80),(25.58,1.86),(25.62,1.91),(25.68,1.94),(25.73,1.96),(25.79,2.23),(25.82,2.02),(25.86,2.04),
(25.91,2.07),(25.95,2.07),(26.01,2.10),(26.06,2.12),(26.12,2.15),(26.17,2.18),(26.22,2.31),(26.28,2.18),(26.33,2.10),
(26.39,2.07),(26.44,1.99),(26.50,1.94),(26.55,1.91),(26.61,1.86),(26.66,1.80),(26.72,1.75),(26.77,1.69),(26.83,1.77),
(26.88,1.91),(26.94,2.04),(26.99,1.96),(27.05,1.88),(27.10,1.86),(27.16,1.99),(27.21,1.83),(27.27,1.99),(27.32,1.86),
(27.38,1.91),(27.43,1.94),(27.49,1.88),(27.54,1.88),(27.60,1.86),(27.65,1.83),(27.71,1.83),(27.76,1.80),(27.82,1.80),
(27.87,1.69),(27.93,1.67),(27.98,1.69),(28.04,1.72),(28.09,1.75),(28.15,1.67),(28.20,1.72),(28.26,1.75),(28.31,1.77),
(28.37,1.91),(28.42,1.80),(28.48,1.72),(28.53,1.75),(28.59,1.72),(28.64,1.72),(28.70,1.75),(28.75,1.75),(28.81,1.80),
(28.86,1.61),(28.92,1.72),(28.97,1.64),(29.02,1.72),(29.08,1.69),(29.13,1.72),(29.19,1.75),(29.24,1.77),(29.30,1.77),
(29.35,1.75),(29.41,1.75),(29.46,1.64),(29.50,1.53),(29.53,2.07),(29.57,2.45),(29.62,2.48),(29.66,2.15),(29.71,2.34),
(29.77,2.42),(29.85,2.45),(29.93,2.42),(30.01,2.39),(30.10,2.34),(30.18,2.29),(30.25,2.26),(30.30,1.53),(30.34,0.02),
(30.41,-0.03),(30.45,0.02),(30.49,0.99),(30.52,1.64),(30.56,1.64),(30.62,1.69),(30.65,1.94),(30.69,1.69),(30.76,1.67),
(30.84,1.72),(30.89,1.74)]

PANELS = [panel1, panel2, panel3, panel4, panel5, panel6]
Y_RANGES = [[-0.545, 2.945], [-0.193, 4.103], [-0.898, 4.307], [-0.971, 2.259], [-0.465, 3.658], [-0.384, 3.324]]
Y_TICKS = [[0, 1, 2], [0, 1, 2, 3, 4], [0, 1, 2, 3, 4], [0, 1, 2], [0, 1, 2, 3], [0, 1, 2, 3]]

# ---------------- figure ----------------
W, H = 2675, 2345
LEFT = 46
DOMAINS = [[0.83923, 0.97889], [0.67945, 0.81876], [0.51898, 0.65812],
           [0.35949, 0.49838], [0.19846, 0.33774], [0.03881, 0.17714]]
AXIS_COLOR = "#404040"
RED = "#e8190f"

fig = go.Figure()
layout = dict(
    width=W, height=H, autosize=False,
    margin=dict(l=LEFT, r=0, t=0, b=0, pad=0),
    paper_bgcolor="white", plot_bgcolor="white",
    showlegend=False,
)

for i, pts in enumerate(PANELS):
    n = i + 1
    xa = "x" if n == 1 else f"x{n}"
    ya = "y" if n == 1 else f"y{n}"
    fig.add_trace(go.Scatter(
        x=[p[0] for p in pts], y=[p[1] for p in pts],
        mode="lines", line=dict(color="black", width=4),
        xaxis=xa, yaxis=ya, hoverinfo="skip",
    ))
    xkey = "xaxis" if n == 1 else f"xaxis{n}"
    ykey = "yaxis" if n == 1 else f"yaxis{n}"
    layout[xkey] = dict(
        domain=[0, 1], range=X_RANGE, anchor=ya,
        tickmode="array", tickvals=TICK_DAYS, showticklabels=False,
        ticks="outside", ticklen=11, tickwidth=3, tickcolor=AXIS_COLOR,
        showline=True, linewidth=4.5, linecolor=AXIS_COLOR,
        showgrid=False, zeroline=False, fixedrange=True,
    )
    layout[ykey] = dict(
        domain=DOMAINS[i], range=Y_RANGES[i], anchor=xa,
        tickmode="array", tickvals=Y_TICKS[i], showticklabels=False,
        ticks="outside", ticklen=15, tickwidth=3, tickcolor=AXIS_COLOR,
        showline=True, linewidth=3.5, linecolor=AXIS_COLOR,
        showgrid=False, zeroline=False, fixedrange=True,
    )

annotations = []
for d, lab in zip(LABEL_DAYS, TICK_LABELS):
    annotations.append(dict(
        x=d, xref="x6", y=0.0, yref="paper", text=f"<b>{lab}</b>",
        showarrow=False, xanchor="center", yanchor="bottom", borderpad=0,
        font=dict(family="Liberation Sans, Arial, sans-serif", size=60, color="black"),
    ))
for xp, lab in zip([0.3849, 0.8281], PHASE_LABELS):
    annotations.append(dict(
        x=xp, xref="paper", y=0.9145, yref="paper", text=f"<b>{lab}</b>",
        showarrow=False, xanchor="center", yanchor="middle",
        font=dict(family="Liberation Sans, Arial, sans-serif", size=78, color=RED),
    ))
layout["annotations"] = annotations

layout["shapes"] = [
    dict(type="line", xref="paper", yref="paper",
         x0=0.47851, y0=0.99574, x1=0.47014, y1=0.03838,
         line=dict(color=RED, width=7), layer="above"),
    dict(type="circle", xref="paper", yref="paper",
         x0=0.0449, y0=0.98720, x1=0.0463, y1=0.98805,
         line=dict(width=0), fillcolor="#888888", layer="above"),
]

fig.update_layout(**layout)
fig.write_html("out.html", include_plotlyjs=True, config={"displayModeBar": False})
